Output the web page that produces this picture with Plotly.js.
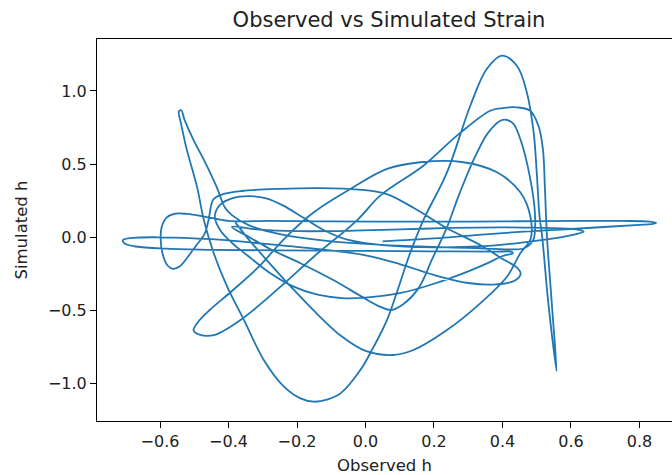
<!DOCTYPE html>
<html>
<head>
<meta charset="utf-8">
<script src="https://cdn.plot.ly/plotly-3.0.1.min.js"></script>
<style>html,body{margin:0;padding:0;background:#fff;}#chart{width:672px;height:475px;}</style>
</head>
<body>
<div id="chart"></div>
<script>
// Observed h (x) / Simulated h (y), traced in segments
const wideLoopX = [0.05,0.20,0.33,0.45,0.60,0.72,0.80,0.835,0.849,0.83,0.75,0.60,0.45,0.30,0.10,-0.10,-0.28,-0.40,-0.47,-0.52,-0.555,-0.58,-0.595,-0.598,-0.592,-0.578,-0.562,-0.542,-0.52,-0.495,-0.47,-0.458,-0.452,-0.445,-0.42,-0.36,-0.25,-0.13,-0.02,0.06,0.14,0.238,0.335,0.40,0.44,0.453,0.435,0.38,0.30,0.20,0.10,0.0,-0.15,-0.30];
const wideLoopY = [-0.03,-0.01,0.015,0.035,0.055,0.072,0.083,0.088,0.097,0.106,0.11,0.11,0.108,0.106,0.105,0.107,0.11,0.11,0.14,0.158,0.16,0.135,0.07,-0.02,-0.12,-0.195,-0.218,-0.2,-0.14,-0.06,0.02,0.12,0.2,0.255,0.29,0.315,0.33,0.335,0.325,0.295,0.2,0.06,-0.055,-0.15,-0.205,-0.25,-0.3,-0.325,-0.315,-0.26,-0.185,-0.125,-0.08,-0.045];

const leftLoopX = [-0.45,-0.60,-0.68,-0.708,-0.705,-0.67,-0.58,-0.45,-0.25,0.0,0.2,0.38,0.428,0.43,0.40];
const leftLoopY = [-0.015,-0.002,-0.006,-0.02,-0.042,-0.065,-0.08,-0.088,-0.092,-0.095,-0.098,-0.1,-0.103,-0.112,-0.13];

const archX = [0.36,0.30,0.20,0.10,0.0,-0.06,-0.14,-0.21,-0.28,-0.34,-0.39,-0.425,-0.44,-0.425,-0.39,-0.34,-0.29,-0.24,-0.18,-0.12,-0.05,0.05,0.2,0.33];
const archY = [-0.175,-0.235,-0.32,-0.385,-0.415,-0.42,-0.395,-0.34,-0.245,-0.135,-0.04,0.05,0.14,0.22,0.265,0.28,0.265,0.215,0.13,0.045,-0.02,-0.055,-0.07,-0.065];

const midLoopX = [0.45,0.55,0.615,0.637,0.615,0.52,0.40,0.25,0.10,-0.05,-0.20,-0.31,-0.39];
const midLoopY = [-0.04,-0.01,0.02,0.037,0.052,0.062,0.066,0.062,0.052,0.042,0.04,0.05,0.07];

const peakLoopX = [-0.34,-0.28,-0.19,-0.09,-0.01,0.045,0.075,0.11,0.155,0.195,0.235,0.275,0.32,0.36,0.40,0.43,0.452,0.481,0.495,0.49,0.465,0.43,0.3,0.1,-0.1,-0.25,-0.34,-0.39];
const peakLoopY = [0.0,-0.08,-0.18,-0.30,-0.41,-0.48,-0.5,-0.46,-0.35,-0.15,0.05,0.30,0.55,0.72,0.802,0.78,0.671,0.40,0.15,-0.02,-0.075,-0.085,-0.075,-0.06,-0.03,0.02,0.08,0.15];

const mainX = [-0.41,-0.435,-0.47,-0.502,-0.528,-0.538,-0.545,-0.538,-0.522,-0.492,-0.472,-0.443,-0.404,-0.355,-0.297,-0.238,-0.19,-0.151,-0.11,-0.073,-0.015,0.024,0.063,0.10,0.130,0.169,0.238,0.306,0.354,0.398,0.442,0.471,0.491,0.50,0.508,0.516,0.534,0.558,0.544,0.53,0.524,0.518,0.505,0.481,0.442,0.40,0.364,0.267,0.169,0.043,-0.024,-0.151,-0.248,-0.365,-0.443,-0.485,-0.502,-0.49,-0.455,-0.39,-0.31,-0.238,-0.151,-0.044,0.063,0.16,0.286,0.384,0.452,0.481,0.482,0.452,0.413,0.335,0.238,0.14,0.08,0.0,-0.07,-0.14,-0.21,-0.28,-0.34,-0.38];
const mainY = [0.2,0.345,0.52,0.664,0.80,0.868,0.86,0.77,0.60,0.345,0.116,-0.112,-0.34,-0.568,-0.842,-1.025,-1.105,-1.128,-1.112,-1.071,-0.911,-0.751,-0.568,-0.32,-0.112,0.116,0.443,0.899,1.15,1.242,1.173,0.991,0.717,0.443,0.146,0.0,-0.454,-0.918,-0.454,0.0,0.329,0.603,0.762,0.865,0.888,0.883,0.865,0.694,0.488,0.283,0.116,-0.135,-0.34,-0.568,-0.672,-0.668,-0.64,-0.585,-0.50,-0.37,-0.20,-0.014,0.169,0.329,0.466,0.512,0.512,0.443,0.306,0.146,-0.014,-0.112,-0.272,-0.454,-0.637,-0.774,-0.808,-0.78,-0.68,-0.53,-0.36,-0.18,-0.02,0.10];

const xTicks = [-0.6,-0.4,-0.2,0.0,0.2,0.4,0.6,0.8];
const xTickText = ['\u22120.6','\u22120.4','\u22120.2','0.0','0.2','0.4','0.6','0.8'];
const yTicks = [-1.0,-0.5,0.0,0.5,1.0];
const yTickText = ['\u22121.0','\u22120.5','0.0','0.5','1.0'];

const xs = [].concat(wideLoopX, leftLoopX, archX, midLoopX, peakLoopX, mainX);
const ys = [].concat(wideLoopY, leftLoopY, archY, midLoopY, peakLoopY, mainY);

const font = 'DejaVu Sans, sans-serif';
const trace = {
  x: xs, y: ys, type: 'scatter', mode: 'lines',
  line: {color: '#1f77b4', width: 1.8, shape: 'spline', smoothing: 1},
  hoverinfo: 'skip'
};
const axisCommon = {
  showgrid: false, zeroline: false, showline: true, linecolor: '#000', linewidth: 1,
  ticks: 'outside', ticklen: 6, tickwidth: 1, tickcolor: '#000',
  tickfont: {family: font, size: 16, color: '#222'}
};
const layout = {
  width: 672, height: 475,
  margin: {l: 97, r: 0, t: 39, b: 54},
  paper_bgcolor: '#fff', plot_bgcolor: '#fff',
  showlegend: false,
  title: {text: 'Observed vs Simulated Strain', font: {family: font, size: 21, color: '#222'},
          x: 389/672, xref: 'container', xanchor: 'center', y: 1 - 20/475, yref: 'container', yanchor: 'middle'},
  xaxis: Object.assign({}, axisCommon, {
    range: [-0.784, 0.895], tickvals: xTicks, ticktext: xTickText, mirror: true,
    title: {text: 'Observed h', font: {family: font, size: 16.5, color: '#222'}, standoff: 10}
  }),
  yaxis: Object.assign({}, axisCommon, {
    range: [-1.26, 1.356], tickvals: yTicks, ticktext: yTickText, mirror: false,
    title: {text: 'Simulated h', font: {family: font, size: 16.5, color: '#222'}, standoff: 16}
  })
};
Plotly.newPlot('chart', [trace], layout, {staticPlot: true, displayModeBar: false});
</script>
</body>
</html>
